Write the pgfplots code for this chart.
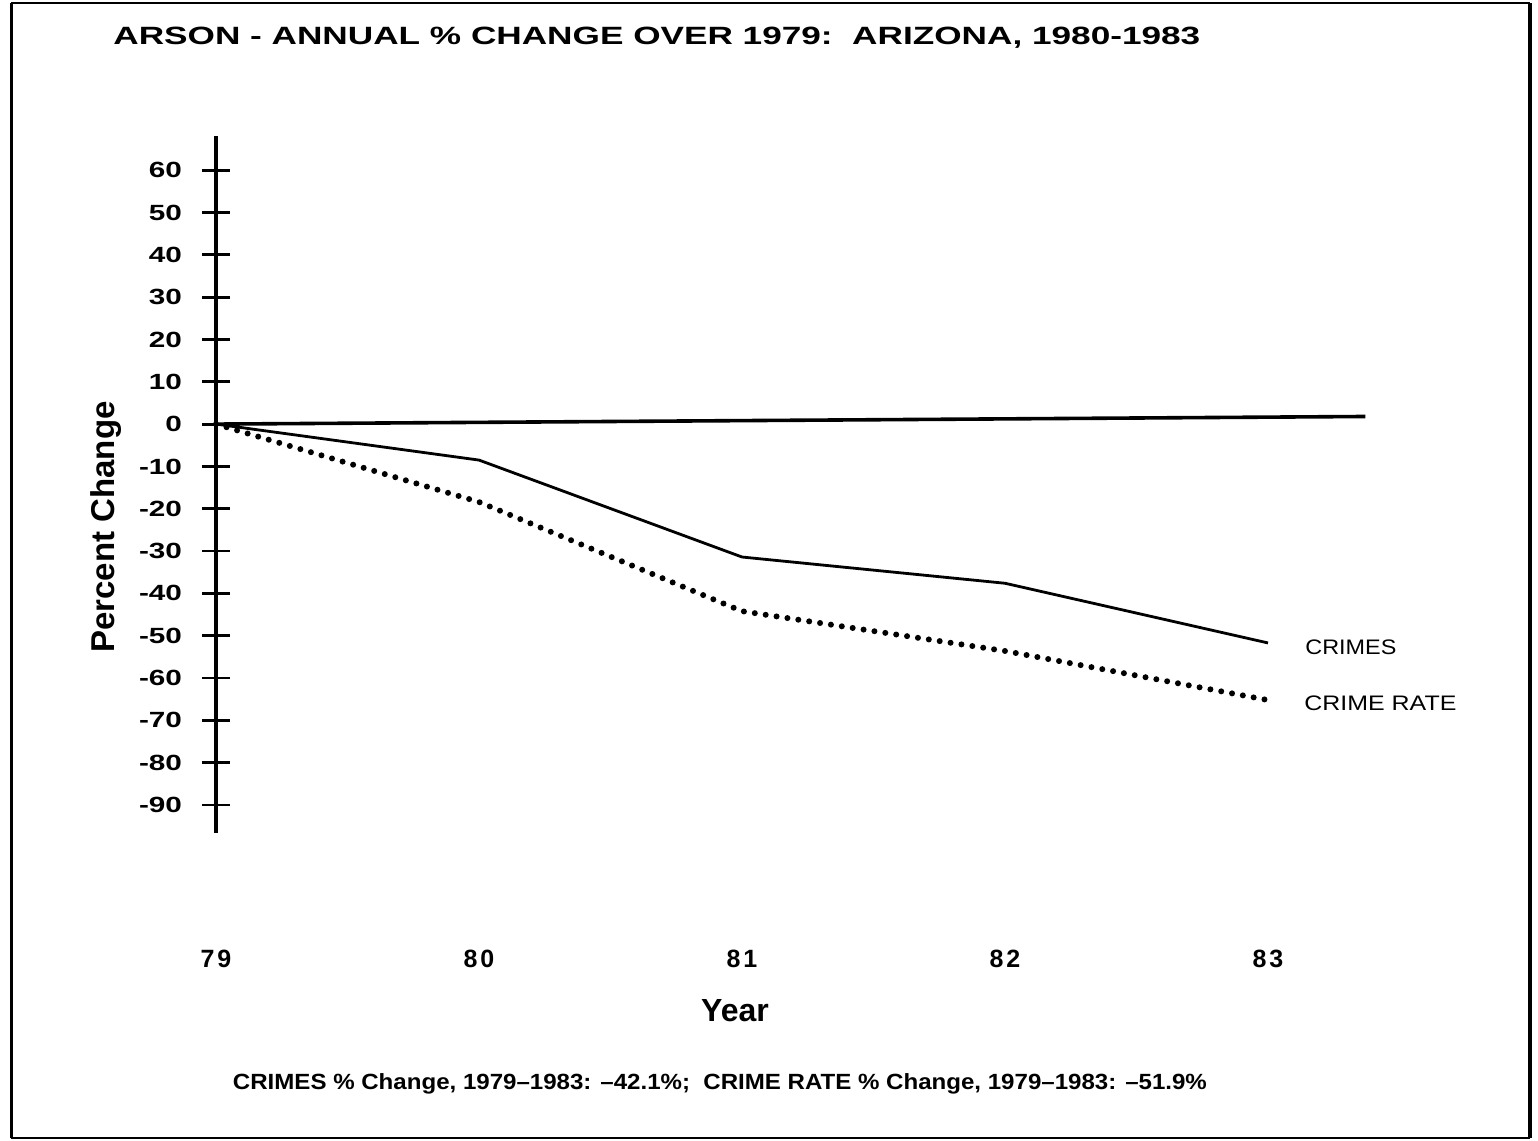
\documentclass[border=0pt]{standalone}
\usepackage{pgfplots}
\pgfplotsset{compat=1.18}
\usepackage{fontspec}
\usepackage{graphicx}
\setmainfont{Liberation Sans}
\newfontfamily\widefont{Liberation Sans}[FakeStretch=1.35]
\newfontfamily\xfont{Liberation Sans}[LetterSpace=12]

\begin{document}
\begin{tikzpicture}
\path (0,0) rectangle (769pt,570.5pt);
% frame
\draw[line width=1.5pt] (5.5pt,1.5pt) -- (5.5pt,569pt);
\draw[line width=2.2pt] (765pt,1.5pt) -- (765pt,569pt);
\draw[line width=1pt] (5.5pt,569pt) -- (765pt,569pt);
\draw[line width=1pt] (5.5pt,1.5pt) -- (765pt,1.5pt);

\begin{axis}[
  at={(108pt,154pt)}, anchor=south west,
  scale only axis, width=578.6pt, height=348.35pt,
  xmin=79, xmax=83.4, ymin=-96.6, ymax=68,
  clip=false,
  axis y line=left, axis x line=bottom,
  axis line style={-},
  y axis line style={line width=1.6pt},
  x axis line style={draw=none},
  xtick={79,80,81,82,83},
  xticklabels={79,80,81,82,83},
  x tick style={draw=none},
  xticklabel style={font=\fontsize{12.5}{14}\xfont\bfseries, anchor=north, yshift=-48pt},
  ytick={-90,-80,-70,-60,-50,-40,-30,-20,-10,0,10,20,30,40,50,60},
  yticklabels={-90,-80,-70,-60,-50,-40,-30,-20,-10,0,10,20,30,40,50,60},
  tick align=center, major tick length=14pt,
  y tick style={line width=1.4pt, black},
  yticklabel style={font=\fontsize{11}{12}\widefont\bfseries, anchor=east, xshift=-6.5pt},
]
% zero reference line
\addplot[black, line width=1.8pt] coordinates {(79,0) (83.37,1.8)};
% crimes
\addplot[black, line width=1.4pt] coordinates {(79,0) (80,-8.5) (81,-31.4) (82,-37.6) (83,-51.7)};
% crime rate
\addplot[black, line width=3pt, line cap=round, dash pattern=on 0pt off 5.5pt] coordinates {(79,0) (80,-18.4) (81,-44.2) (82,-53.6) (83,-65.2)};
\end{axis}

% title
\node[anchor=base west, inner sep=0pt] at (56.5pt,548pt)
  {\resizebox{543.5pt}{\height}{\fontsize{12.5}{14}\selectfont\bfseries ARSON - ANNUAL \% CHANGE OVER 1979:\ \ ARIZONA, 1980-1983}};
% y label
\node[rotate=90, anchor=base, inner sep=0pt] at (57pt,307pt)
  {\fontsize{16.5}{18}\selectfont\bfseries Percent Change};
% x label
\node[anchor=base, inner sep=0pt] at (367.5pt,59.5pt)
  {\fontsize{16}{18}\selectfont\bfseries Year};
% series labels
\node[anchor=base west, inner sep=0pt] at (652.5pt,243pt)
  {\resizebox{45.5pt}{\height}{\fontsize{10.5}{12}\selectfont CRIMES}};
\node[anchor=base west, inner sep=0pt] at (652pt,215pt)
  {\resizebox{76pt}{\height}{\fontsize{10.5}{12}\selectfont CRIME RATE}};
% caption
\node[anchor=base, inner sep=0pt] at (360pt,25.5pt)
  {\resizebox{487pt}{\height}{\fontsize{11}{13}\selectfont\bfseries CRIMES \% Change, 1979--1983: --42.1\%;\ \ CRIME RATE \% Change, 1979--1983: --51.9\%}};
\end{tikzpicture}
\end{document}
